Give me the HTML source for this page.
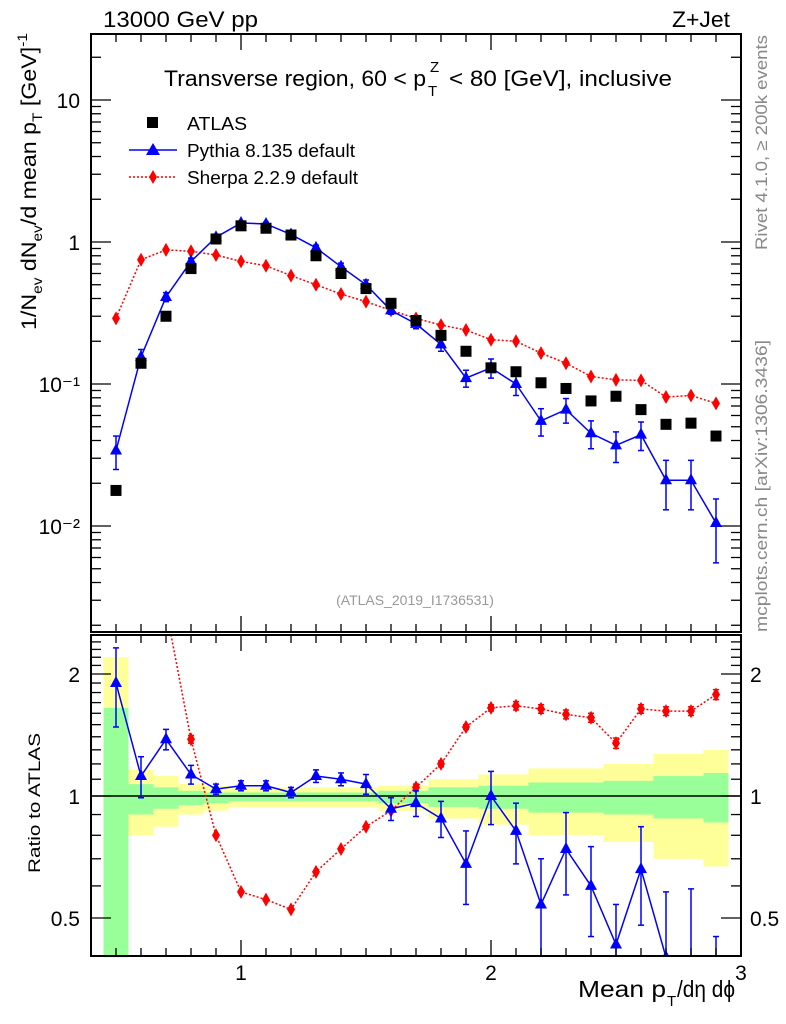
<!DOCTYPE html>
<html><head><meta charset="utf-8"><style>
html,body{margin:0;padding:0;background:#fff;overflow:hidden;width:786px;height:1024px;}
svg{display:block;font-family:"Liberation Sans",sans-serif;}
</style></head><body>
<svg id="chart" width="786" height="1024" viewBox="0 0 786 1024" xmlns="http://www.w3.org/2000/svg">
<g id="bands"></g>
<g id="marks"></g>
<g id="axes"></g>
<text x="103" y="27" font-size="22" textLength="155" lengthAdjust="spacingAndGlyphs">13000 GeV pp</text>
<text x="672" y="27" font-size="22" textLength="58" lengthAdjust="spacingAndGlyphs">Z+Jet</text>
<g>
<text x="164" y="86" font-size="22" textLength="262" lengthAdjust="spacingAndGlyphs">Transverse region, 60 &lt; p</text>
<text x="428" y="96" font-size="15">T</text>
<text x="430" y="72" font-size="15">Z</text>
<text x="449" y="86" font-size="22" textLength="223" lengthAdjust="spacingAndGlyphs">&lt; 80 [GeV], inclusive</text>
</g>
<g>
<rect x="147" y="117" width="11" height="11" fill="#000"/>
<text x="187" y="130" font-size="18" textLength="60" lengthAdjust="spacingAndGlyphs">ATLAS</text>
<line x1="129" y1="150" x2="177" y2="150" stroke="#00f" stroke-width="1.5"/>
<polygon points="153,143 160,155 146,155" fill="#00f"/>
<text x="187" y="157" font-size="18" textLength="168" lengthAdjust="spacingAndGlyphs">Pythia 8.135 default</text>
<line x1="129" y1="177" x2="177" y2="177" stroke="#f00" stroke-width="1.5" stroke-dasharray="2,2"/>
<polygon points="153,170 157,177 153,184 149,177" fill="#f00"/>
<text x="187" y="184" font-size="18" textLength="171" lengthAdjust="spacingAndGlyphs">Sherpa 2.2.9 default</text>
</g>
<text x="415" y="605" font-size="14" fill="#999" text-anchor="middle">(ATLAS_2019_I1736531)</text>
<text transform="translate(767,250) rotate(-90)" font-size="17" fill="#888" textLength="215" lengthAdjust="spacingAndGlyphs">Rivet 4.1.0, ≥ 200k events</text>
<text transform="translate(767,632) rotate(-90)" font-size="17" fill="#888" textLength="292" lengthAdjust="spacingAndGlyphs">mcplots.cern.ch [arXiv:1306.3436]</text>
<text transform="translate(36,330) rotate(-90)" font-size="21" textLength="297" lengthAdjust="spacingAndGlyphs">1/N<tspan font-size="14" dy="6">ev</tspan><tspan dy="-6"> dN</tspan><tspan font-size="14" dy="6">ev</tspan><tspan dy="-6">/d mean p</tspan><tspan font-size="14" dy="6">T</tspan><tspan dy="-6"> [GeV]</tspan><tspan font-size="14" dy="-9">-1</tspan></text>
<text transform="translate(40,873) rotate(-90)" font-size="17" textLength="140" lengthAdjust="spacingAndGlyphs">Ratio to ATLAS</text>
<g>
<text x="578" y="997" font-size="23" textLength="88" lengthAdjust="spacingAndGlyphs">Mean p</text>
<text x="667" y="1006" font-size="15">T</text>
<text x="677" y="997" font-size="23" textLength="58" lengthAdjust="spacingAndGlyphs">/dη dϕ</text>
</g>
</svg>
<script>
const xs=[0.5,0.6,0.7,0.8,0.9,1.0,1.1,1.2,1.3,1.4,1.5,1.6,1.7,1.8,1.9,2.0,2.1,2.2,2.3,2.4,2.5,2.6,2.7,2.8,2.9];
const atlas=[0.0178,0.14,0.30,0.65,1.05,1.30,1.25,1.12,0.80,0.60,0.47,0.37,0.28,0.22,0.17,0.13,0.122,0.102,0.093,0.076,0.082,0.066,0.052,0.053,0.043];
const pythia=[0.034,0.155,0.41,0.73,1.08,1.36,1.34,1.13,0.91,0.67,0.50,0.33,0.265,0.19,0.11,0.13,0.10,0.055,0.066,0.045,0.037,0.044,0.021,0.021,0.0105];
const pythiaErr=[0.009,0.02,0.03,0.04,0.04,0.04,0.04,0.04,0.04,0.04,0.04,0.02,0.02,0.02,0.015,0.02,0.017,0.012,0.013,0.01,0.009,0.01,0.008,0.008,0.005];
const sherpa=[0.29,0.75,0.88,0.86,0.81,0.73,0.68,0.58,0.50,0.43,0.38,0.33,0.29,0.26,0.24,0.205,0.20,0.165,0.14,0.113,0.107,0.106,0.081,0.083,0.073];
const ratioPythia=[1.9,1.12,1.38,1.13,1.04,1.06,1.06,1.02,1.12,1.1,1.07,0.93,0.96,0.88,0.68,1.0,0.82,0.54,0.74,0.6,0.43,0.66,0.4,0.39,0.25];
const ratioPythiaErr=[0.42,0.13,0.08,0.06,0.03,0.03,0.03,0.03,0.04,0.04,0.06,0.06,0.07,0.09,0.14,0.15,0.14,0.16,0.17,0.15,0.11,0.18,0.18,0.2,0.2];
const ratioSherpa=[16,4.8,2.9,1.38,0.8,0.58,0.555,0.525,0.65,0.74,0.84,0.92,1.05,1.2,1.48,1.65,1.67,1.64,1.59,1.56,1.35,1.64,1.62,1.62,1.78];
const ratioSherpaErr=[0,0,0,0.03,0,0,0,0,0,0,0,0,0.02,0.02,0.02,0.03,0.04,0.04,0.04,0.04,0.04,0.04,0.04,0.04,0.05];
const totUp=[2.2,1.16,1.12,1.07,1.06,1.05,1.05,1.05,1.05,1.05,1.05,1.06,1.06,1.1,1.1,1.13,1.13,1.17,1.17,1.17,1.2,1.2,1.27,1.27,1.3];
const totDn=[0.3,0.80,0.84,0.90,0.92,0.94,0.94,0.94,0.94,0.94,0.94,0.92,0.92,0.88,0.88,0.85,0.85,0.80,0.80,0.80,0.77,0.77,0.70,0.70,0.67];
const statUp=[1.65,1.07,1.05,1.03,1.02,1.02,1.02,1.02,1.02,1.02,1.02,1.03,1.03,1.05,1.05,1.06,1.06,1.08,1.08,1.08,1.09,1.09,1.12,1.12,1.14];
const statDn=[0.3,0.90,0.93,0.95,0.96,0.97,0.97,0.97,0.97,0.97,0.97,0.96,0.96,0.94,0.94,0.93,0.93,0.91,0.91,0.91,0.90,0.90,0.88,0.88,0.86];
const mainTicks=[10,1,0.1,0.01];
const mainTickLabels=["10","1","10⁻¹","10⁻²"];
const ratioTicks=[2,1,0.5];
const xTicks=[1,2,3];

const NS="http://www.w3.org/2000/svg";
const L=91,R=741,T=34,MB=632,RT=635,RB=956;
const X=v=>L+(v-0.4)*250;
const Ym=v=>242-Math.log10(v)*142;
const Yr=v=>796-Math.log2(v)*122;
function el(p,tag,a){const e=document.createElementNS(NS,tag);for(const k in a)e.setAttribute(k,a[k]);p.appendChild(e);return e;}
const bands=document.getElementById('bands'),marks=document.getElementById('marks'),axes=document.getElementById('axes');
const clampR=v=>Math.min(Math.max(v,0.4),2.5);
xs.forEach((x,i)=>{
  const a=X(x-0.05),w=25;
  let r=el(bands,'rect',{x:a,y:Yr(clampR(totUp[i])),width:w,height:Yr(clampR(totDn[i]))-Yr(clampR(totUp[i])),fill:'#ffff99'});
  
  
  r=el(bands,'rect',{x:a,y:Yr(clampR(statUp[i])),width:w,height:Yr(clampR(statDn[i]))-Yr(clampR(statUp[i])),fill:'#99ff99'});
  
  
});
const defs=el(document.getElementById('chart'),'defs',{});
const c1=el(defs,'clipPath',{id:'cm'});el(c1,'rect',{x:L,y:T,width:R-L,height:MB-T});
const c2=el(defs,'clipPath',{id:'cr'});el(c2,'rect',{x:L,y:RT,width:R-L,height:RB-RT});
const gm=el(marks,'g',{'clip-path':'url(#cm)'}),gr=el(marks,'g',{'clip-path':'url(#cr)'});
el(gr,'line',{x1:L,x2:R,y1:Yr(1),y2:Yr(1),stroke:'#000','stroke-width':1.5});
function series(g,Y,vals,errs,color,dash,shape,name){
  const pl=el(g,'polyline',{points:xs.map((x,i)=>X(x)+','+Y(vals[i])).join(' '),fill:'none',stroke:color,'stroke-width':1.5,'stroke-dasharray':dash||'none'});
  
  
  xs.forEach((x,i)=>{
    const cx=X(x),cy=Y(vals[i]);
    if(errs&&errs[i]>0){
      const y1=Y(Math.max(vals[i]-errs[i],1e-4)),y2=Y(vals[i]+errs[i]);
      el(g,'line',{x1:cx,x2:cx,y1:y1,y2:y2,stroke:color,'stroke-width':1.5});
      el(g,'line',{x1:cx-3,x2:cx+3,y1:y1,y2:y1,stroke:color,'stroke-width':1.5});
      el(g,'line',{x1:cx-3,x2:cx+3,y1:y2,y2:y2,stroke:color,'stroke-width':1.5});
    }
    let m;
    if(shape==='tri')m=el(g,'polygon',{points:`${cx},${cy-7} ${cx+6},${cy+4} ${cx-6},${cy+4}`,fill:color});
    else if(shape==='dia')m=el(g,'polygon',{points:`${cx},${cy-7} ${cx+4},${cy} ${cx},${cy+7} ${cx-4},${cy}`,fill:color});
    else m=el(g,'rect',{x:cx-5.5,y:cy-5.5,width:11,height:11,fill:color});
    
    
  });
}
series(gm,Ym,sherpa,null,'#f00','2,2','dia','sherpa');
series(gm,Ym,pythia,pythiaErr,'#00f',null,'tri','pythia');
xs.forEach((x,i)=>{
  const m=el(gm,'rect',{x:X(x)-5.5,y:Ym(atlas[i])-5.5,width:11,height:11,fill:'#000'});
  
  
});
series(gr,Yr,ratioSherpa,ratioSherpaErr,'#f00','2,2','dia','sherpa-ratio');
series(gr,Yr,ratioPythia,ratioPythiaErr,'#00f',null,'tri','pythia-ratio');
el(axes,'rect',{x:L,y:T,width:R-L,height:MB-T,fill:'none',stroke:'#000','stroke-width':2});
el(axes,'rect',{x:L,y:RT,width:R-L,height:RB-RT,fill:'none',stroke:'#000','stroke-width':2});
for(let k=5;k<=30;k++){
  const v=k/10,x=X(v),maj=(k%10===0),len=maj?16:8;
  [[T,1],[MB,-1],[RT,1],[RB,-1]].forEach(([y,d])=>el(axes,'line',{x1:x,x2:x,y1:y,y2:y+d*len,stroke:'#000','stroke-width':1.3}));
}
xTicks.forEach(v=>{const t=el(axes,'text',{x:X(v),y:980,'font-size':21,'text-anchor':'middle'});t.textContent=String(v);

});
for(let d=-3;d<=1;d++)for(let m=1;m<=9;m++){
  const v=m*Math.pow(10,d),y=Ym(v);if(y<T||y>MB)continue;
  const len=m===1?20:10;
  el(axes,'line',{x1:L,x2:L+len,y1:y,y2:y,stroke:'#000','stroke-width':1.3});
  el(axes,'line',{x1:R,x2:R-len,y1:y,y2:y,stroke:'#000','stroke-width':1.3});
}
mainTicks.forEach((v,i)=>{const t=el(axes,'text',{x:80,y:Ym(v)+8,'font-size':21,'text-anchor':'end'});t.textContent=mainTickLabels[i];

});
[0.4,0.5,0.6,0.7,0.8,0.9,1,1.1,1.2,1.3,1.4,1.5,1.6,1.7,1.8,1.9,2,2.1,2.2,2.3,2.4,2.5].forEach(v=>{
  const y=Yr(v);if(y<RT||y>RB)return;const len=(v===0.5||v===1||v===2)?20:10;
  el(axes,'line',{x1:L,x2:L+len,y1:y,y2:y,stroke:'#000','stroke-width':1.3});
  el(axes,'line',{x1:R,x2:R-len,y1:y,y2:y,stroke:'#000','stroke-width':1.3});
});
ratioTicks.forEach(v=>{
  let t=el(axes,'text',{x:80,y:Yr(v)+8,'font-size':21,'text-anchor':'end'});t.textContent=String(v);
  
  
  t=el(axes,'text',{x:750,y:Yr(v)+8,'font-size':21});t.textContent=String(v);
  
  
});
</script>
</body></html>
